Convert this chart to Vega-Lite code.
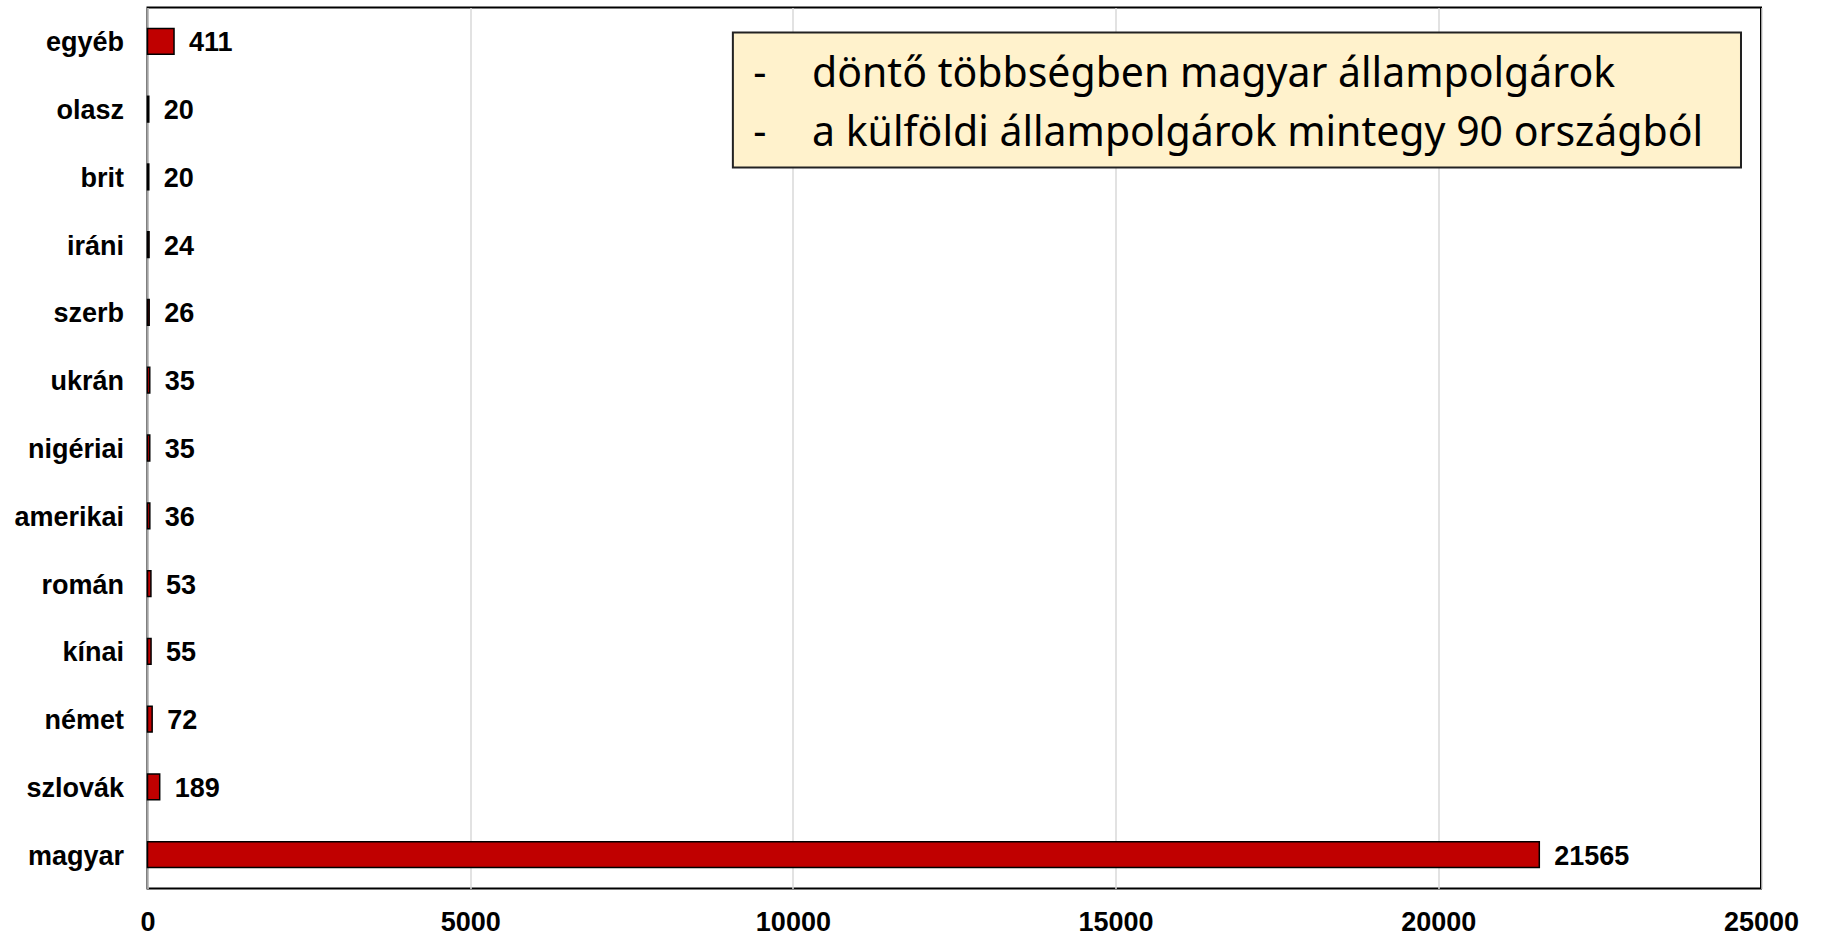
{
  "$schema": "https://vega.github.io/schema/vega-lite/v6.json",
  "autosize": {"type": "none"},
  "padding": {"left": 147.5, "top": 7.5, "right": 64, "bottom": 60},
  "width": 1613.5,
  "height": 881,
  "background": "white",
  "config": {
    "view": {"stroke": "#000000", "strokeWidth": 2},
    "font": "Liberation Sans"
  },
  "datasets": {
    "bars": [
      {"nat": "egyéb", "n": 411},
      {"nat": "olasz", "n": 20},
      {"nat": "brit", "n": 20},
      {"nat": "iráni", "n": 24},
      {"nat": "szerb", "n": 26},
      {"nat": "ukrán", "n": 35},
      {"nat": "nigériai", "n": 35},
      {"nat": "amerikai", "n": 36},
      {"nat": "román", "n": 53},
      {"nat": "kínai", "n": 55},
      {"nat": "német", "n": 72},
      {"nat": "szlovák", "n": 189},
      {"nat": "magyar", "n": 21565}
    ],
    "box": [{"x1": 9070, "x2": 24690, "y1": 10.64, "y2": 12.63}],
    "notes": [
      {"xd": 9385, "xt": 10296, "y": 12.0, "t": "döntő többségben magyar állampolgárok"},
      {"xd": 9385, "xt": 10296, "y": 11.13, "t": "a külföldi állampolgárok mintegy 90 országból"}
    ]
  },
  "layer": [
    {
      "data": {"name": "bars"},
      "layer": [
        {
          "mark": {"type": "bar", "color": "#C00000", "stroke": "#000000", "strokeWidth": 1.5},
          "encoding": {
            "y": {
              "field": "nat", "type": "nominal", "sort": null,
              "scale": {"paddingInner": 0.62, "paddingOuter": 0.31},
              "axis": {"title": null, "ticks": false, "domain": false, "labelFontSize": 27, "labelFontWeight": "bold", "labelColor": "#000000", "labelPadding": 24, "labelOffset": 2, "labelFont": "Liberation Sans"}
            },
            "x": {
              "field": "n", "type": "quantitative",
              "scale": {"domain": [0, 25000], "nice": false},
              "axis": {"title": null, "values": [0, 5000, 10000, 15000, 20000, 25000], "format": "d", "ticks": false, "domain": false, "grid": true, "gridColor": "#D9D9D9", "gridWidth": 1.5, "labelFontSize": 27, "labelFontWeight": "bold", "labelColor": "#000000", "labelPadding": 21, "labelFont": "Liberation Sans", "labelFlush": false, "labelBaseline": "top"}
            }
          }
        },
        {
          "mark": {"type": "text", "align": "left", "baseline": "middle", "dx": 15, "dy": 2, "fontSize": 27, "fontWeight": "bold", "color": "#000000", "font": "Liberation Sans"},
          "encoding": {
            "y": {"field": "nat", "type": "nominal", "sort": null},
            "x": {"field": "n", "type": "quantitative"},
            "text": {"field": "n", "type": "quantitative", "format": "d"}
          }
        }
      ]
    },
    {
      "layer": [
        {
          "data": {"name": "box"},
          "mark": {"type": "rect", "fill": "#FFF2CC", "stroke": "#222222", "strokeWidth": 2},
          "encoding": {
            "x": {"field": "x1", "type": "quantitative"},
            "x2": {"field": "x2"},
            "y": {"field": "y1", "type": "quantitative", "scale": {"domain": [0, 13], "nice": false, "zero": false}, "axis": null},
            "y2": {"field": "y2"}
          }
        },
        {
          "data": {"name": "notes"},
          "mark": {"type": "text", "align": "left", "baseline": "middle", "fontSize": 41, "color": "#000000", "font": "Noto Sans"},
          "encoding": {
            "x": {"field": "xd", "type": "quantitative"},
            "y": {"field": "y", "type": "quantitative", "scale": {"domain": [0, 13], "nice": false, "zero": false}, "axis": null},
            "text": {"value": "-"}
          }
        },
        {
          "data": {"name": "notes"},
          "mark": {"type": "text", "align": "left", "baseline": "middle", "fontSize": 41, "color": "#000000", "font": "Noto Sans"},
          "encoding": {
            "x": {"field": "xt", "type": "quantitative"},
            "y": {"field": "y", "type": "quantitative", "scale": {"domain": [0, 13], "nice": false, "zero": false}, "axis": null},
            "text": {"field": "t", "type": "nominal"}
          }
        }
      ]
    }
  ],
  "resolve": {"scale": {"y": "independent"}}
}
